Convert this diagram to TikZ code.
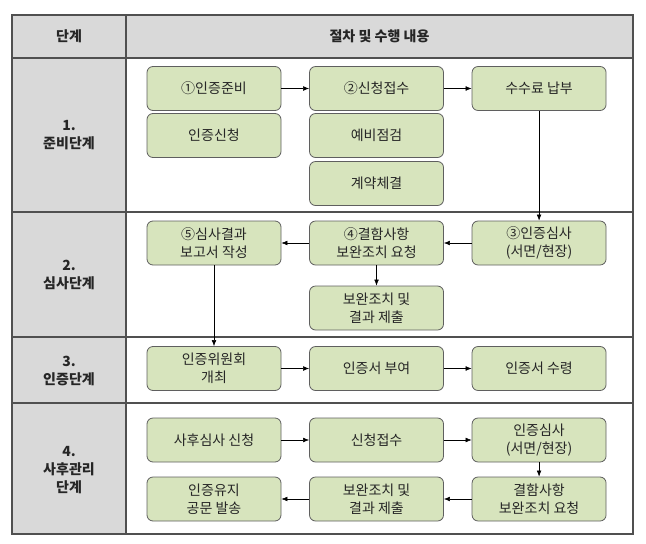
\documentclass[tikz,border=0pt]{standalone}
\usepackage{fontspec}
\setmainfont{Noto Sans CJK KR}
\usetikzlibrary{positioning,arrows.meta}
\definecolor{boxgreen}{HTML}{D7E4BD}
\definecolor{boxline}{HTML}{5F5F5F}
\definecolor{headgrey}{HTML}{D9D9D9}
\definecolor{gridline}{HTML}{505050}
\definecolor{txt}{HTML}{262626}

\begin{document}
\begin{tikzpicture}[x=0.75pt,y=-0.75pt,-,>={Latex[length=4.5pt,width=3.5pt]},node distance=121.9pt,
    box/.style={rounded corners=4.5pt,draw=boxline,fill=boxgreen,line width=0.6pt,minimum width=100.5pt,minimum height=33pt,inner ysep=1pt,align=center,text=txt,font=\fontsize{10.5}{13.5}\selectfont},
    stage/.style={align=center,text=txt,font=\bfseries\fontsize{10.5}{13.5}\selectfont}]

    \useasboundingbox (0,0) rectangle (646,543);

    % table
    \fill[headgrey] (12,15) rectangle (633,58);
    \fill[headgrey] (12,58) rectangle (126,534);
    \draw[gridline,line width=0.8pt] (12,15) rectangle (633,534);
    \draw[gridline,line width=0.8pt] (126,15) -- (126,534);
    \foreach \y in {58,212,337,403}
        \draw[gridline,line width=0.8pt] (12,\y) -- (633,\y);

    \node[stage] (h1) at (69,36.5) {단계};
    \node[stage] (h2) at (379.5,36.5) {절차 및 수행 내용};
    \node[stage] (s1) at (69,135) {1.\\준비단계};
    \node[stage] (s2) at (69,274.5) {2.\\심사단계};
    \node[stage] (s3) at (69,370.5) {3.\\인증단계};
    \node[stage] (s4) at (69,470) {4.\\사후관리\\단계};

    % stage 1
    \node[box] (p1) at (214,88.5) {①인증준비};
    \node[box] (p2) [right of = p1] {②신청접수};
    \node[box] (p3) [right of = p2] {수수료 납부};
    \node[box] (p4) [below of = p1, node distance=35.25pt] {인증신청};
    \node[box] (p5) [below of = p2, node distance=35.25pt] {예비점검};
    \node[box] (p6) [below of = p5, node distance=36pt] {계약체결};

    % stage 2
    \node[box] (q1) at (214,243) {⑤심사결과\\보고서 작성};
    \node[box] (q2) [right of = q1] {④결함사항\\보완조치 요청};
    \node[box] (q3) [right of = q2] {③인증심사\\(서면/현장)};
    \node[box] (q4) [below of = q2, node distance=48.75pt] {보완조치 및\\결과 제출};

    % stage 3
    \node[box] (r1) at (214,368.5) {인증위원회\\개최};
    \node[box] (r2) [right of = r1] {인증서 부여};
    \node[box] (r3) [right of = r2] {인증서 수령};

    % stage 4
    \node[box] (t1) at (214,440) {사후심사 신청};
    \node[box] (t2) [right of = t1] {신청접수};
    \node[box] (t3) [right of = t2] {인증심사\\(서면/현장)};
    \node[box] (t4) [below of = t3, node distance=44.25pt] {결함사항\\보완조치 요청};
    \node[box] (t5) [left of = t4] {보완조치 및\\결과 제출};
    \node[box] (t6) [left of = t5] {인증유지\\공문 발송};

    \draw[->] (p1) to (p2);
    \draw[->] (p2) to (p3);
    \draw[->] (p3) to (q3);
    \draw[->] (q3) to (q2);
    \draw[->] (q2) to (q1);
    \draw[->] (q2) to (q4);
    \draw[->] (q1) to (r1);
    \draw[->] (r1) to (r2);
    \draw[->] (r2) to (r3);
    \draw[->] (t1) to (t2);
    \draw[->] (t2) to (t3);
    \draw[->] (t3) to (t4);
    \draw[->] (t4) to (t5);
    \draw[->] (t5) to (t6);
\end{tikzpicture}
\end{document}
